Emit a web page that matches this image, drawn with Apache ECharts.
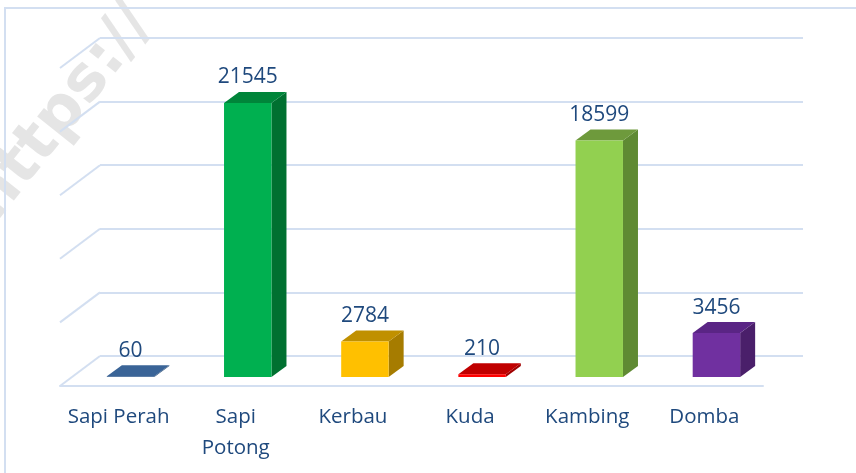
<!DOCTYPE html>
<html>
<head>
<meta charset="utf-8">
<style>
  html, body { margin: 0; padding: 0; background: #fff; }
  #chart { width: 856px; height: 473px; }
</style>
<script src="https://cdn.jsdelivr.net/npm/echarts@6/dist/echarts.min.js"></script>
</head>
<body>
<div id="chart"></div>
<script>
var categories = ['Sapi Perah', 'Sapi\nPotong', 'Kerbau', 'Kuda', 'Kambing', 'Domba'];
var values = [60, 21545, 2784, 210, 18599, 3456];
var yTicks = [0, 5000, 10000, 15000, 20000, 25000];

// front / top / side face colours per bar
var faceColors = [
  ['#376092', '#3a6497', '#2b4c74'],
  ['#00b050', '#00853a', '#007030'],
  ['#ffc000', '#c09000', '#a67c00'],
  ['#ff0000', '#c00000', '#a00000'],
  ['#92d050', '#6e9a3c', '#5f8a33'],
  ['#7030a0', '#5a2585', '#4a1f6a']
];

var gridColor = '#d3dff1';
var textColor = '#1f497d';
var depthX = 40, depthY = 30;      // floor depth (front -> back wall)
var barDX = 15, barDY = 11;        // bar depth

var chart = echarts.init(document.getElementById('chart'));

var option = {
  backgroundColor: '#fff',
  animation: false,
  graphic: [{
    type: 'text',
    x: 8, y: 232,
    rotation: 0.9,
    z: -10,
    style: {
      text: 'https://',
      font: 'bold 62px "DejaVu Sans"',
      fill: 'rgba(160,160,160,0.28)',
      textAlign: 'left',
      textVerticalAlign: 'bottom'
    }
  }, {
    type: 'polyline',
    z: -5,
    shape: { points: [[5, 473], [5, 8], [856, 8]] },
    style: { stroke: gridColor, lineWidth: 2, fill: null }
  }],
  grid: [
    // back wall
    { left: 100, right: 53, top: 38, bottom: 117 },
    // floor front edge (category labels)
    { left: 60, right: 93, top: 68, bottom: 87 },
    // bar front faces
    { left: 72, right: 81, top: 59, bottom: 96 }
  ],
  xAxis: [
    { gridIndex: 0, type: 'value', min: 0, max: 1, show: false },
    {
      gridIndex: 1, type: 'category', data: categories,
      axisLine: { show: true, lineStyle: { color: gridColor, width: 2 } },
      axisTick: { show: false },
      axisLabel: {
        color: textColor, fontSize: 20.5, fontFamily: 'Open Sans',
        lineHeight: 31, margin: 16, interval: 0
      }
    },
    { gridIndex: 2, type: 'category', data: categories, show: false }
  ],
  yAxis: [
    {
      gridIndex: 0, type: 'value', min: 0, max: 25000, interval: 5000,
      axisLine: { show: false }, axisTick: { show: false }, axisLabel: { show: false },
      splitLine: { show: true, lineStyle: { color: gridColor, width: 2 } }
    },
    { gridIndex: 1, type: 'value', min: 0, max: 25000, show: false, splitLine: { show: false } },
    { gridIndex: 2, type: 'value', min: 0, max: 25000, show: false, splitLine: { show: false } }
  ],
  series: [
    {
      // left side wall diagonals
      type: 'custom',
      xAxisIndex: 0, yAxisIndex: 0,
      silent: true,
      z: 1,
      data: yTicks.map(function (v) { return [0, v]; }),
      renderItem: function (params, api) {
        var p = api.coord([api.value(0), api.value(1)]);
        return {
          type: 'line',
          shape: { x1: p[0], y1: p[1], x2: p[0] - depthX, y2: p[1] + depthY },
          style: { stroke: gridColor, lineWidth: 2 }
        };
      }
    },
    {
      // 3D bars
      type: 'custom',
      xAxisIndex: 2, yAxisIndex: 2,
      z: 5,
      data: values.map(function (v, i) { return [i, v]; }),
      renderItem: function (params, api) {
        var idx = api.value(0);
        var val = api.value(1);
        var base = api.coord([idx, 0]);
        var top = api.coord([idx, val]);
        var w = api.size([1, 0])[0] * 0.405;
        var x0 = base[0] - w / 2, x1 = base[0] + w / 2;
        var yb = base[1], yt = top[1];
        var c = faceColors[idx];
        return {
          type: 'group',
          children: [
            {
              type: 'polygon',
              shape: { points: [[x1, yb], [x1 + barDX, yb - barDY], [x1 + barDX, yt - barDY], [x1, yt]] },
              style: { fill: c[2] }
            },
            {
              type: 'polygon',
              shape: { points: [[x0, yt], [x1, yt], [x1 + barDX, yt - barDY], [x0 + barDX, yt - barDY]] },
              style: { fill: c[1] }
            },
            {
              type: 'rect',
              shape: { x: x0, y: yt, width: w, height: Math.max(yb - yt, 0.8) },
              style: { fill: c[0] }
            },
            {
              type: 'text',
              x: base[0], y: yt - barDY - 4,
              style: {
                text: String(val),
                fill: textColor,
                font: '21px "Open Sans"',
                textAlign: 'center',
                textVerticalAlign: 'bottom'
              }
            }
          ]
        };
      }
    }
  ]
};

chart.setOption(option);
</script>
</body>
</html>
